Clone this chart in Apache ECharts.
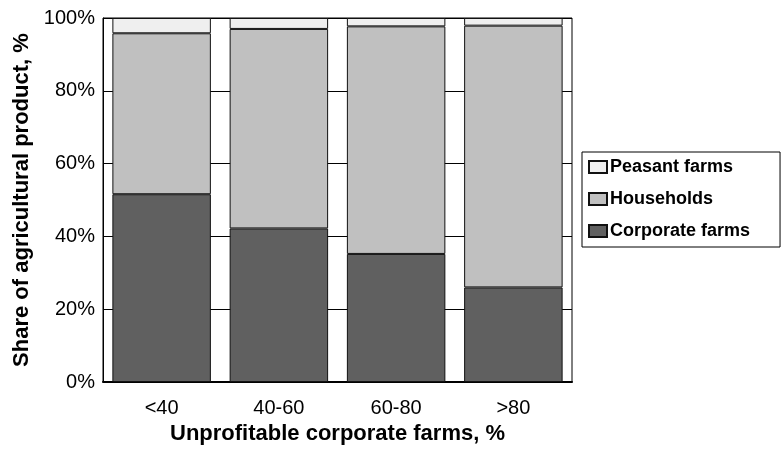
<!DOCTYPE html>
<html>
<head>
<meta charset="utf-8">
<script src="https://cdn.jsdelivr.net/npm/echarts@6/dist/echarts.min.js"></script>
<style>html,body{margin:0;padding:0;background:#fff}#c{width:784px;height:450px}</style>
</head>
<body>
<div id="c"></div>
<script>
const categories = ['<40', '40-60', '60-80', '>80'];
const corporateFarms = [51.6, 42.2, 35.2, 26.0];
const households = [44.2, 54.8, 62.5, 71.9];
const peasantFarms = [4.2, 3.0, 2.3, 2.1];
const yTicks = [0, 20, 40, 60, 80, 100];

const font = 'Liberation Sans, Arial, sans-serif';
const chart = echarts.init(document.getElementById('c'), null, {renderer: 'canvas'});
const barStyle = (c) => ({color: c, borderColor: '#111', borderWidth: 1});
chart.setOption({
  animation: false,
  grid: {left: 103, right: 212, top: 18, bottom: 67, show: true, borderColor: '#000', borderWidth: 1, backgroundColor: 'transparent'},
  legend: {
    orient: 'vertical', left: 582, top: 152,
    data: ['Peasant farms', 'Households', 'Corporate farms'],
    itemWidth: 18, itemHeight: 12, itemGap: 14,
    borderColor: '#000', borderWidth: 1, padding: [6, 30, 7, 6],
    textStyle: {fontFamily: font, fontWeight: 'bold', fontSize: 18, color: '#000', padding: [0, 0, 0, -2]},
    icon: 'rect'
  },
  xAxis: {
    type: 'category', data: categories,
    axisLine: {lineStyle: {color: '#000', width: 2}},
    axisTick: {show: false},
    axisLabel: {fontFamily: font, fontSize: 20, color: '#000', margin: 16},
    name: 'Unprofitable corporate farms, %', nameLocation: 'middle', nameGap: 37,
    nameTextStyle: {fontFamily: font, fontSize: 22, fontWeight: 'bold', color: '#000'}
  },
  yAxis: {
    type: 'value', min: yTicks[0], max: yTicks[yTicks.length - 1], interval: 20,
    axisLine: {show: true, lineStyle: {color: '#000', width: 1}},
    axisTick: {show: false},
    splitLine: {show: true, lineStyle: {color: '#000', width: 1}},
    axisLabel: {fontFamily: font, fontSize: 20, color: '#000', margin: 8, formatter: '{value}%'},
    name: 'Share of agricultural product, %', nameLocation: 'middle', nameGap: 67,
    nameTextStyle: {fontFamily: font, fontSize: 22, fontWeight: 'bold', color: '#000'}
  },
  series: [
    {name: 'Corporate farms', type: 'bar', stack: 's', data: corporateFarms, barCategoryGap: '16%', itemStyle: barStyle('#606060')},
    {name: 'Households', type: 'bar', stack: 's', data: households, itemStyle: barStyle('#c0c0c0')},
    {name: 'Peasant farms', type: 'bar', stack: 's', data: peasantFarms, itemStyle: barStyle('#efefef')}
  ]
});
</script>
</body>
</html>
